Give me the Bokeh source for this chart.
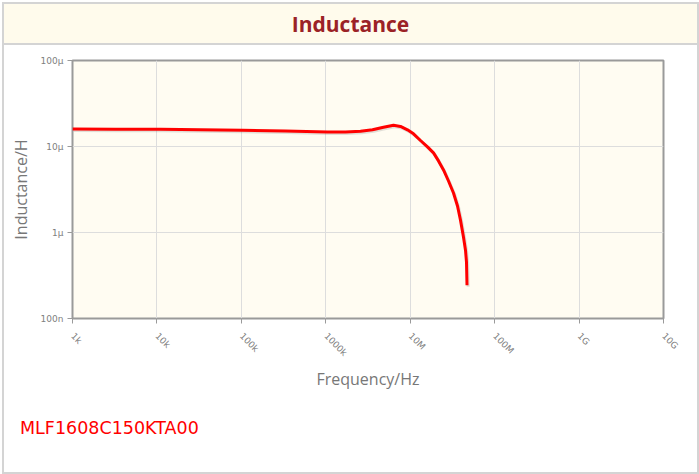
import numpy as np
from bokeh.plotting import figure
from bokeh.layouts import column
from bokeh.models import Range1d, FixedTicker, Div
from bokeh.embed import file_html
from bokeh.resources import INLINE

# ---- data ----
freq_hz = [1.00e3, 3.23e3, 1.103e4, 3.28e4, 1.031e5, 3.33e5, 1.048e6, 1.712e6, 2.577e6,
           3.575e6, 4.826e6, 6.339e6, 7.671e6, 9.286e6, 1.094e7, 1.324e7, 1.602e7,
           1.887e7, 2.163e7, 2.479e7, 2.841e7, 3.255e7, 3.631e7, 3.939e7, 4.277e7,
           4.516e7, 4.641e7, 4.706e7]
induct_h = [1.595e-5, 1.591e-5, 1.587e-5, 1.565e-5, 1.544e-5, 1.511e-5, 1.471e-5, 1.475e-5,
            1.503e-5, 1.565e-5, 1.674e-5, 1.767e-5, 1.711e-5, 1.565e-5, 1.405e-5,
            1.174e-5, 9.91e-6, 8.43e-6, 6.80e-6, 5.34e-6, 3.97e-6, 2.88e-6, 2.03e-6,
            1.393e-6, 8.82e-7, 6.22e-7, 4.51e-7, 2.43e-7]

x_ticks = [1e3, 1e4, 1e5, 1e6, 1e7, 1e8, 1e9, 1e10]
x_labels = ["1k", "10k", "100k", "1000k", "10M", "100M", "1G", "10G"]
y_ticks = [1e-7, 1e-6, 1e-5, 1e-4]
y_labels = ["100n", "1µ", "10µ", "100µ"]

title_text = "Inductance"
x_title = "Frequency/Hz"
y_title = "Inductance/H"
part_no = "MLF1608C150KTA00"

W = 693
BAND_H, MAIN_H, FOOT_H = 41, 355, 72
FL, FR, FT, FB = 68, 34, 15, 82
FW = W - FL - FR
FH = MAIN_H - FT - FB

# ---- title band ----
band = Div(text=title_text, width=W, height=BAND_H, margin=0,
           styles={"background-color": "#fffbec",
                   "box-shadow": "inset 0 -2px 0 #d4d4d4",
                   "text-align": "center", "line-height": f"{BAND_H}px",
                   "font-family": "'Open Sans'", "font-weight": "bold",
                   "font-size": "21px", "color": "#9b2226"})

# ---- main chart ----
p = figure(width=W, height=MAIN_H, x_axis_type="log", y_axis_type="log",
           x_range=Range1d(1e3, 1e10), y_range=Range1d(1e-7, 1e-4),
           output_backend="svg", toolbar_location=None, title=None,
           min_border_left=FL, min_border_right=FR, min_border_top=FT,
           min_border_bottom=FB, margin=0)
p.background_fill_color = "#fffcf2"
p.border_fill_color = "white"
p.outline_line_color = "#9a9a9a"
p.outline_line_width = 2

p.xaxis.ticker = FixedTicker(ticks=x_ticks, minor_ticks=[])
p.yaxis.ticker = FixedTicker(ticks=y_ticks, minor_ticks=[])
p.xaxis.major_label_overrides = {t: l for t, l in zip(x_ticks, x_labels)}
p.yaxis.major_label_overrides = {t: l for t, l in zip(y_ticks, y_labels)}
for ax in (p.xaxis, p.yaxis):
    ax.axis_line_color = None
    ax.major_tick_line_color = "#9a9a9a"
    ax.major_tick_in = 0
    ax.major_tick_out = 5
    ax.minor_tick_line_color = None
    ax.major_label_text_color = "#808080"
    ax.major_label_text_font_size = "9px"
    ax.major_label_text_font = "DejaVu Sans"
    ax.axis_label_text_font = "Open Sans"
    ax.axis_label_text_font_size = "16px"
    ax.axis_label_text_font_style = "normal"
    ax.axis_label_text_color = "#777777"
p.xaxis.major_label_orientation = -np.pi / 4
p.xaxis.major_label_standoff = 11
p.yaxis.major_label_standoff = 4
p.xaxis.axis_label = x_title
p.yaxis.axis_label = y_title
p.xaxis.axis_label_standoff = 4
p.yaxis.axis_label_standoff = 6

p.grid.grid_line_color = "#dddddd"
p.grid.grid_line_width = 1

# soft shadow of the curve
fx = np.array(freq_hz) * 10 ** (1.2 / (FW / 7))
fy = np.array(induct_h) / 10 ** (1.5 / (FH / 3))
p.line(fx, fy, line_color="#888888", line_width=3, line_alpha=0.25)
p.line(freq_hz, induct_h, line_color="#ff0000", line_width=3, line_join="round")

# ---- footer with part number ----
foot = Div(text=part_no, width=W, height=FOOT_H, margin=0,
           styles={"background-color": "white", "text-indent": "16px",
                   "line-height": "56px", "font-family": "'DejaVu Sans'",
                   "font-size": "17.5px", "color": "#ff0000"})

layout = column(band, p, foot, margin=(2, 0, 0, 2), spacing=0,
                styles={"border": "2px solid #d4d4d4"})

open("out.html", "w").write(file_html(layout, INLINE))
